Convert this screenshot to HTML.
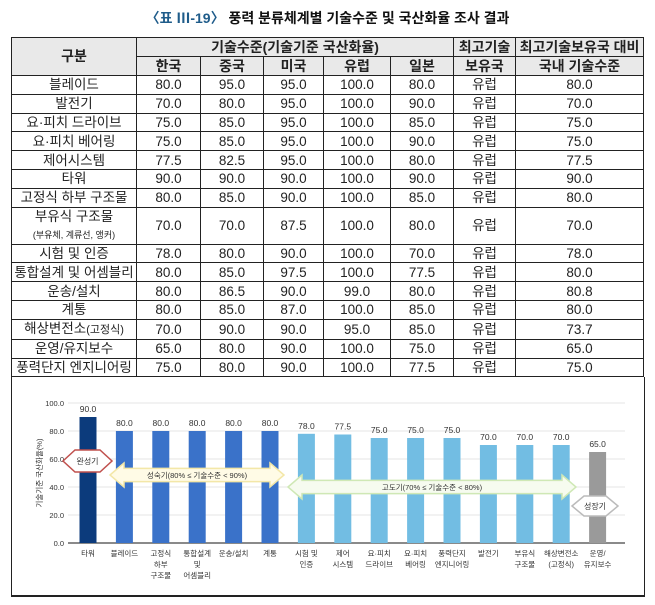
<!DOCTYPE html>
<html><head><meta charset="utf-8">
<style>
body{margin:0;width:655px;height:605px;background:#fff;font-family:"Liberation Sans","Noto Sans CJK KR",sans-serif;position:relative;overflow:hidden}
#title{position:absolute;top:8px;left:0;width:655px;text-align:center;font-size:14px;font-weight:bold;color:#111}
#title span{color:#1f5c8a}
table{position:absolute;left:11px;top:37px;border-collapse:collapse;font-size:13.5px;color:#222}
td,th{border:1px solid #222;text-align:center;padding:0;line-height:17px}
th{background:#e9e9e9;font-weight:bold;font-size:14px}
tr.d td{height:17.8px}
td small{font-size:9px}
#chartbox{position:absolute;left:11px;top:377px;width:632px;height:218px;border-left:1px solid #222;border-right:1px solid #222;border-bottom:2px solid #222}
svg{position:absolute;left:0;top:0}
</style></head><body>
<div id="title"><span>〈표 Ⅲ-19〉</span> 풍력 분류체계별 기술수준 및 국산화율 조사 결과</div>
<table>
<colgroup><col style="width:125px"><col style="width:64px"><col style="width:63px"><col style="width:60px"><col style="width:67px"><col style="width:63px"><col style="width:62px"><col style="width:128px"></colgroup>
<tr style="height:19px"><th rowspan="2">구분</th><th colspan="5">기술수준(기술기준 국산화율)</th><th>최고기술</th><th>최고기술보유국 대비</th></tr>
<tr style="height:19px"><th>한국</th><th>중국</th><th>미국</th><th>유럽</th><th>일본</th><th>보유국</th><th>국내 기술수준</th></tr>
<tbody id="tb"></tbody>
</table>
<div id="chartbox"></div>
<svg id="chart" width="655" height="605"></svg>
<script>
const rowNames=["블레이드","발전기","요·피치 드라이브","요·피치 베어링","제어시스템","타워","고정식 하부 구조물","부유식 구조물","시험 및 인증","통합설계 및 어셈블리","운송/설치","계통","해상변전소(고정식)","운영/유지보수","풍력단지 엔지니어링"];
const korea=[80,70,75,75,77.5,90,80,70,78,80,80,80,70,65,75];
const china=[95,80,85,85,82.5,90,85,70,80,85,86.5,85,90,80,80];
const usa=[95,95,95,95,95,90,90,87.5,90,97.5,90,87,90,90,90];
const europe=[100,100,100,100,100,100,100,100,100,100,99,100,95,100,100];
const japan=[80,90,85,90,80,90,85,80,70,77.5,80,85,85,75,77.5];
const relative=[80,70,75,75,77.5,90,80,70,78,80,80.8,80,73.7,65,75];
const topCountry="유럽";
const tb=document.getElementById('tb');
rowNames.forEach((n,i)=>{
  const tr=document.createElement('tr');tr.className='d';
  
  
  let name=n;
  if(n==="부유식 구조물"){name='부유식 구조물<br><small>(부유체, 계류선, 앵커)</small>';tr.style.height='34px';}
  if(n==="해상변전소(고정식)"){name='해상변전소<small style="font-size:11px">(고정식)</small>';}
  tr.innerHTML=`<td>${name}</td><td>${korea[i].toFixed(1)}</td><td>${china[i].toFixed(1)}</td><td>${usa[i].toFixed(1)}</td><td>${europe[i].toFixed(1)}</td><td>${japan[i].toFixed(1)}</td><td>${topCountry}</td><td>${relative[i].toFixed(1)}</td>`;
  tb.appendChild(tr);
});

const barCats=[["타워"],["블레이드"],["고정식","하부","구조물"],["통합설계","및","어셈블리"],["운송/설치"],["계통"],["시험 및","인증"],["제어","시스템"],["요·피치","드라이브"],["요·피치","베어링"],["풍력단지","엔지니어링"],["발전기"],["부유식","구조물"],["해상변전소","(고정식)"],["운영/","유지보수"]];
const barVals=[90,80,80,80,80,80,78,77.5,75,75,75,70,70,70,65];
const barGroups=[0,1,1,1,1,1,2,2,2,2,2,2,2,2,3];
const yTicks=[0,20,40,60,80,100];
const groupColors=["#0c3b7c","#3a72c9","#72bde3","#9a9a9a"];
const svg=document.getElementById('chart');
const NS='http://www.w3.org/2000/svg';
const y0=543,y1=403,x0=88,dx=36.4,bw=17;
const ys=v=>y0-(v/100)*(y0-y1);
const xs=i=>x0+i*dx;
function mk(t,a){const e=document.createElementNS(NS,t);for(const k in a)e.setAttribute(k,a[k]);svg.appendChild(e);return e;}
yTicks.forEach(t=>{
  const g=mk('line',{x1:68,x2:625,y1:ys(t),y2:ys(t),stroke:t===0?'#444':'#e6e6e6','stroke-width':t===0?1.2:1});
  
  
  const l=mk('text',{x:64,y:ys(t)+3,'text-anchor':'end','font-size':7.5,fill:'#333'});
  l.textContent=t.toFixed(1);
  
  
});
const yt=mk('text',{x:0,y:0,'text-anchor':'middle','font-size':7.5,fill:'#333',transform:`translate(42,${ys(50)}) rotate(-90)`});
yt.textContent='기술기준 국산화율(%)';


barVals.forEach((v,i)=>{
  const r=mk('rect',{x:xs(i)-bw/2,y:ys(v),width:bw,height:y0-ys(v),fill:groupColors[barGroups[i]]});
  
  
  const t=mk('text',{x:xs(i),y:ys(v)-5,'text-anchor':'middle','font-size':8.5,fill:'#333'});
  t.textContent=v.toFixed(1);
  
  
  barCats[i].forEach((ln,k)=>{
    const c=mk('text',{x:xs(i),y:556+k*11,'text-anchor':'middle','font-size':7.5,fill:'#333'});
    c.textContent=ln;
    
    
  });
});
function arrow(xa,xb,yc,h,fill,stroke,label,name){
  const hh=h/2,head=14,sh=hh*0.55;
  const p=mk('path',{d:`M${xa},${yc} L${xa+head},${yc-hh} L${xa+head},${yc-sh} L${xb-head},${yc-sh} L${xb-head},${yc-hh} L${xb},${yc} L${xb-head},${yc+hh} L${xb-head},${yc+sh} L${xa+head},${yc+sh} L${xa+head},${yc+hh} Z`,fill:fill,stroke:stroke,'stroke-width':1.5});
  
  
  const t=mk('text',{x:(xa+xb)/2,y:yc+3,'text-anchor':'middle','font-size':7.5,fill:'#333'});
  t.textContent=label;
  
  
}
function diamond(xa,xb,yc,h,stroke,label,name){
  const hh=h/2,head=12;
  const p=mk('path',{d:`M${xa},${yc} L${xa+head},${yc-hh} L${xb-head},${yc-hh} L${xb},${yc} L${xb-head},${yc+hh} L${xa+head},${yc+hh} Z`,fill:'#fff',stroke:stroke,'stroke-width':1.5});
  
  
  const t=mk('text',{x:(xa+xb)/2,y:yc+3,'text-anchor':'middle','font-size':8,fill:'#333'});
  t.textContent=label;
  
  
}
arrow(110,284,475,24,'#fffbe6','#f3e7a8','성숙기(80% ≤ 기술수준 < 90%)','mature-stage-arrow');
arrow(288,576,487,24,'#f6fbef','#cfe8b5','고도기(70% ≤ 기술수준 < 80%)','advanced-stage-arrow');
diamond(63,112,461,22,'#c0504d','완성기','complete-stage-marker');
diamond(572,618,506,20,'#bbb','성장기','growth-stage-marker');
</script>
</body></html>
